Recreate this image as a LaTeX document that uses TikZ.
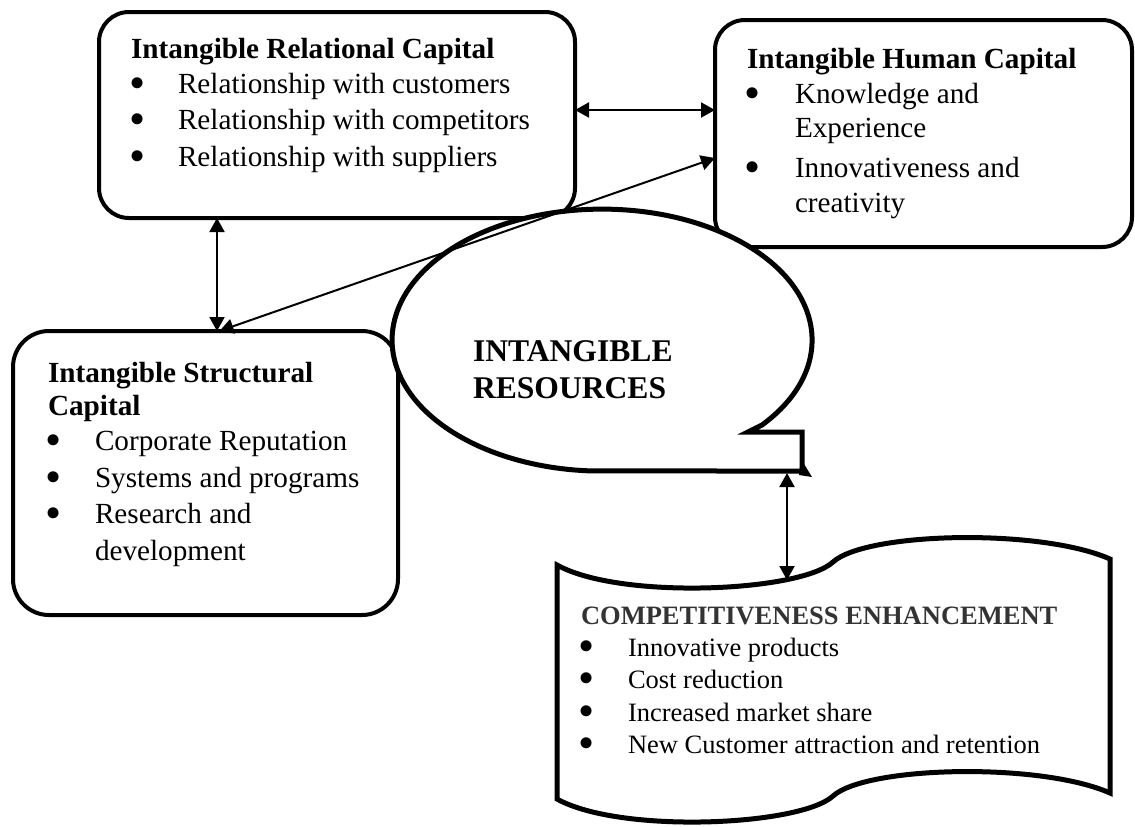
\documentclass[tikz,border=0pt]{standalone}
\usepackage{fontspec}
\setmainfont{Liberation Serif}
\usetikzlibrary{arrows.meta}

\newcommand\boxfont{\fontsize{14.6pt}{17.5pt}\selectfont}
\newcommand\resfont{\fontsize{15.8pt}{19pt}\selectfont\bfseries}
\newcommand\docfont{\fontsize{13.25pt}{16pt}\selectfont}
\newcommand\dotfont{\fontsize{23pt}{23pt}\selectfont}
% bullet line: style, name, bullet x, text x, baseline y, text
\newcommand\bitem[6]{%
  \node[dot] (#2-dot) at (#3,#5+5) {\textbullet};
  \node[#1, anchor=base west] (#2) at (#4,#5) {#6};}

\tikzset{
  capbox/.style={draw, line width=2pt, fill=white, inner sep=0pt, outer sep=0pt},
  boxtxt/.style={inner sep=0pt, outer sep=0pt, font=\boxfont},
  restxt/.style={inner sep=0pt, outer sep=0pt, font=\resfont},
  doctxt/.style={inner sep=0pt, outer sep=0pt, font=\docfont},
  dot/.style={inner sep=0pt, outer sep=0pt, font=\dotfont, anchor=base,
    text height=0pt, text depth=0pt},
  heavy/.style={draw, line width=2.5pt, fill=white, line join=miter},
  link/.style={line width=1pt,
    {Triangle[length=7pt,width=7.5pt]}-{Triangle[length=7pt,width=7.5pt]}},
}

\begin{document}
\begin{tikzpicture}[x=0.5pt,y=-0.5pt]
\useasboundingbox (0,0) rectangle (1135,826);

% the three capital boxes
\node[capbox, rounded corners=15pt, minimum width=238pt, minimum height=103pt] (rel) at (337,115) {};
\node[capbox, rounded corners=15pt, minimum width=208.5pt, minimum height=113.5pt] (human) at (923.5,133.5) {};
\node[capbox, rounded corners=18pt, minimum width=192.5pt, minimum height=142pt] (struct) at (205.5,473) {};

% relational capital
\node[boxtxt, anchor=base west, font=\boxfont\bfseries] (rel-title) at (131,58) {Intangible Relational Capital};
\bitem{boxtxt}{rel-1}{138}{178}{93}{Relationship with customers}
\bitem{boxtxt}{rel-2}{138}{178}{129}{Relationship with competitors}
\bitem{boxtxt}{rel-3}{138}{178}{166}{Relationship with suppliers}

% human capital
\node[boxtxt, anchor=base west, font=\boxfont\bfseries] (human-title) at (747,68) {Intangible Human Capital};
\bitem{boxtxt}{human-1}{753}{795}{103}{Knowledge and}
\node[boxtxt, anchor=base west] (human-1b) at (795,137) {Experience};
\bitem{boxtxt}{human-2}{753}{795}{177}{Innovativeness and}
\node[boxtxt, anchor=base west] (human-2b) at (795,212) {creativity};

% structural capital
\node[boxtxt, anchor=base west, font=\boxfont\bfseries] (struct-title) at (48,382) {Intangible Structural};
\node[boxtxt, anchor=base west, font=\boxfont\bfseries] (struct-title2) at (48,415) {Capital};
\bitem{boxtxt}{struct-1}{54}{95}{450}{Corporate Reputation}
\bitem{boxtxt}{struct-2}{54}{95}{487}{Systems and programs}
\bitem{boxtxt}{struct-3}{54}{95}{523}{Research and}
\node[boxtxt, anchor=base west] (struct-3b) at (95,560) {development};

% central callout
\draw[heavy] (762,425) arc[start angle=40.4, end angle=-267.5, x radius=210, y radius=131]
  -- (802,471) -- (802,432) -- (748,432) -- cycle;
\fill (801,459) -- (812,477) -- (799,475) -- cycle;
\node[restxt, anchor=base west] (res-1) at (473,361) {INTANGIBLE};
\node[restxt, anchor=base west] (res-2) at (473,398) {RESOURCES};
\coordinate (res-foot) at (787,473);

% competitiveness banner
\draw[heavy] (557,565) .. controls (620,600) and (800,592) .. (833,562)
  .. controls (866,532) and (1040,528) .. (1110,559) -- (1110,793)
  .. controls (1040,762) and (866,766) .. (833,796)
  .. controls (800,826) and (620,834) .. (557,799) -- cycle;
\coordinate (doc-top) at (787,580);
\node[doctxt, anchor=base west, font=\docfont\bfseries, text=black!80] (doc-title) at (581,624) {COMPETITIVENESS ENHANCEMENT};
\bitem{doctxt}{doc-1}{587}{628}{656}{Innovative products}
\bitem{doctxt}{doc-2}{587}{628}{688}{Cost reduction}
\bitem{doctxt}{doc-3}{587}{628}{721}{Increased market share}
\bitem{doctxt}{doc-4}{587}{628}{753}{New Customer attraction and retention}

% connectors
\draw[link] ([yshift=2.5pt]rel.east) -- ([yshift=11.75pt]human.west);
\draw[link] ([xshift=-60pt]rel.south) -- ([xshift=5.75pt]struct.north);
\draw[link] ([yshift=-12.25pt]human.west) -- ([xshift=7pt]struct.north);
\draw[link] (res-foot) -- (doc-top);
\end{tikzpicture}
\end{document}
